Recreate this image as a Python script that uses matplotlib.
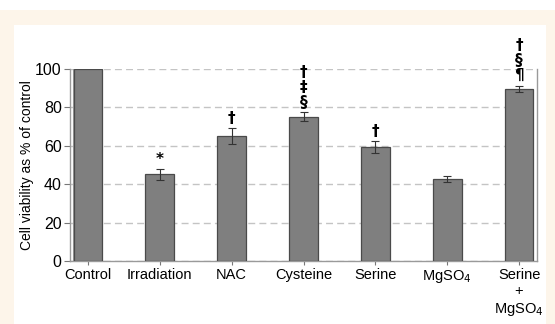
import numpy as np
import matplotlib
matplotlib.use("Agg")
import matplotlib.pyplot as plt
from matplotlib.patches import Rectangle

plt.rcParams['font.family'] = ['Liberation Sans', 'DejaVu Sans']

categories = ['Control', 'Irradiation', 'NAC', 'Cysteine', 'Serine',
              'MgSO$_4$', 'Serine\n+\nMgSO$_4$']
values = [100, 45.2, 65.1, 75.2, 59.5, 42.7, 89.7]
errors = [0, 2.8, 4.0, 2.3, 3.0, 1.8, 1.7]
marks = ['', '*', '†', '†\n‡\n§', '†', '', '†\n§\n¶']

W, H = 555, 324
fig = plt.figure(figsize=(W / 100, H / 100), dpi=100)
fig.patch.set_facecolor('white')

# fond crème et panneau blanc
fig.patches.append(Rectangle((0, 0), 1, (H - 10) / H, transform=fig.transFigure,
                             facecolor='#fdf5ea', edgecolor='none', zorder=-2))
fig.patches.append(Rectangle((14 / W, 0), (546 - 14) / W, (H - 25) / H,
                             transform=fig.transFigure,
                             facecolor='white', edgecolor='none', zorder=-1))

ax = fig.add_axes([70 / W, (H - 261) / H, (537 - 70) / W, (261 - 69) / H])
ax.set_facecolor('none')

x = np.arange(len(categories))
ax.bar(x, values, width=0.4, color='#7f7f7f', edgecolor='#4a4a4a', linewidth=0.9, zorder=3)
ax.errorbar(x[1:], values[1:], yerr=errors[1:], fmt='none', ecolor='#333333',
            elinewidth=0.8, capsize=3, capthick=0.8, zorder=4)

for xi, v, e, m in zip(x, values, errors, marks):
    if m:
        ax.text(xi, v + e + 1.2, m, ha='center', va='bottom', fontsize=11,
                linespacing=1.0, family=['DejaVu Sans'], fontweight='bold')

ax.set_xlim(-0.25, 6.25)
ax.set_ylim(0, 100)
ax.set_yticks([0, 20, 40, 60, 80, 100])
ax.yaxis.grid(True, linestyle=(0, (5, 3)), color='#c4c4c4', linewidth=1.0, zorder=0)
ax.set_xticks(x)
ax.set_xticklabels(categories, fontsize=10.5, linespacing=1.2)
ax.tick_params(axis='y', labelsize=11.5, length=4, color='#777777', pad=2)
ax.tick_params(axis='x', length=3, color='#777777', pad=2)
ax.set_ylabel('Cell viability as % of control', fontsize=10, labelpad=1)

for s in ['left', 'right', 'bottom']:
    ax.spines[s].set_color('#9a9a9a')
    ax.spines[s].set_linewidth(1.0)
ax.spines['top'].set_visible(False)
# double trait de l'axe gauche
ax.axvline(-0.21, color='#9a9a9a', linewidth=0.8, zorder=2)

fig.savefig('out.png', dpi=100)
